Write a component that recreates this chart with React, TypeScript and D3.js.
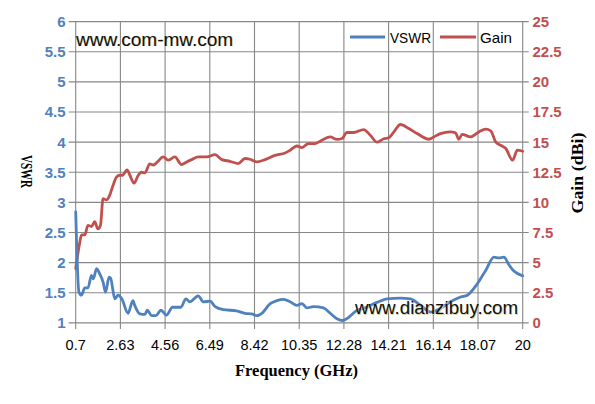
import React from 'react';
import * as d3 from 'd3';

const xTicks = [0.7, 2.63, 4.56, 6.49, 8.42, 10.35, 12.28, 14.21, 16.14, 18.07, 20];
const vswrTicks = [1, 1.5, 2, 2.5, 3, 3.5, 4, 4.5, 5, 5.5, 6];
const gainTicks = [0, 2.5, 5, 7.5, 10, 12.5, 15, 17.5, 20, 22.5, 25];

const vswrFreq = [0.70, 0.84, 0.95, 1.09, 1.23, 1.38, 1.46, 1.60, 1.74, 1.88, 1.99, 2.14, 2.21, 2.39, 2.53, 2.69, 2.96, 3.17, 3.25, 3.47, 3.69, 3.79, 3.98, 4.16, 4.38, 4.62, 4.88, 5.24, 5.46, 5.63, 5.99, 6.21, 6.50, 6.72, 7.07, 7.65, 8.01, 8.30, 8.52, 8.74, 9.10, 9.39, 9.67, 9.96, 10.25, 10.47, 10.68, 10.97, 11.40, 11.69, 11.98, 12.24, 12.48, 12.85, 13.13, 13.71, 14.14, 14.72, 15.15, 15.59, 16.02, 16.45, 16.88, 17.32, 17.61, 18.04, 18.40, 18.76, 18.97, 19.19, 19.41, 19.62, 20.00];
const vswrValues = [2.84, 1.51, 1.46, 1.58, 1.58, 1.79, 1.73, 1.90, 1.81, 1.68, 1.51, 1.76, 1.74, 1.40, 1.46, 1.40, 1.16, 1.37, 1.29, 1.15, 1.14, 1.21, 1.12, 1.12, 1.21, 1.13, 1.26, 1.26, 1.40, 1.35, 1.45, 1.35, 1.36, 1.27, 1.22, 1.20, 1.16, 1.15, 1.12, 1.16, 1.32, 1.37, 1.39, 1.35, 1.29, 1.32, 1.25, 1.27, 1.25, 1.16, 1.07, 1.04, 1.09, 1.21, 1.24, 1.34, 1.40, 1.41, 1.40, 1.29, 1.18, 1.24, 1.35, 1.43, 1.46, 1.65, 1.87, 2.09, 2.08, 2.09, 1.96, 1.86, 1.78];

const gainFreq = [0.70, 0.87, 0.95, 1.09, 1.23, 1.38, 1.52, 1.66, 1.77, 1.88, 2.03, 2.17, 2.31, 2.46, 2.60, 2.72, 2.92, 3.04, 3.22, 3.40, 3.54, 3.69, 3.90, 4.05, 4.22, 4.48, 4.69, 4.98, 5.27, 5.49, 5.71, 5.99, 6.36, 6.72, 7.01, 7.36, 7.72, 8.01, 8.23, 8.52, 8.88, 9.31, 9.74, 9.96, 10.25, 10.47, 10.75, 11.04, 11.33, 11.69, 11.98, 12.20, 12.41, 12.70, 13.13, 13.42, 13.71, 14.00, 14.21, 14.43, 14.72, 15.08, 15.44, 15.95, 16.16, 16.45, 16.88, 17.10, 17.24, 17.39, 17.75, 18.11, 18.40, 18.62, 18.84, 19.05, 19.27, 19.56, 19.77, 20.00];
const gainValues = [4.5, 6.6, 7.3, 7.3, 8.1, 8.0, 8.4, 7.8, 8.1, 10.3, 10.2, 10.6, 11.4, 12.1, 12.25, 12.25, 12.7, 12.25, 11.6, 12.25, 12.5, 12.45, 13.2, 13.1, 13.35, 13.77, 13.5, 13.77, 13.14, 13.36, 13.55, 13.77, 13.77, 13.97, 13.55, 13.41, 13.22, 13.64, 13.58, 13.36, 13.55, 13.9, 14.1, 14.33, 14.68, 14.55, 14.88, 14.88, 15.16, 15.43, 15.22, 15.3, 15.8, 15.8, 16.04, 15.57, 15.0, 15.28, 15.35, 15.83, 16.46, 16.13, 15.71, 15.24, 15.43, 15.71, 15.85, 15.77, 15.24, 15.65, 15.43, 15.85, 16.07, 15.93, 15.0, 14.74, 14.47, 13.5, 14.33, 14.24];

const BLUE = '#4F81BD';
const RED = '#C0504D';
const GRID = '#878787';
const SANS = '"Liberation Sans", Arial, sans-serif';
const SERIF = '"Liberation Serif", "DejaVu Serif", serif';

export default function App() {
  const W = 595, H = 404;
  const x = d3.scaleLinear().domain([0.7, 20]).range([75.7, 522.7]);
  const yL = d3.scaleLinear().domain([1, 6]).range([322.9, 21.6]);
  const yR = d3.scaleLinear().domain([0, 25]).range([322.9, 21.6]);

  const vLine = d3.line<number>()
    .x((_, i) => x(vswrFreq[i]))
    .y((d) => yL(d))
    .curve(d3.curveMonotoneX);
  const gLine = d3.line<number>()
    .x((_, i) => x(gainFreq[i]))
    .y((d) => yR(d))
    .curve(d3.curveMonotoneX);

  const x0 = x.range()[0], x1 = x.range()[1];
  const yTop = yL.range()[1], yBot = yL.range()[0];

  return (
    <svg width={W} height={H} style={{ position: 'absolute', left: 0, top: 0, background: '#fff' }}>
      <rect x={0} y={0} width={W} height={H} fill="#fff" />
      {vswrTicks.map((t) => (
        <g key={'h' + t}>
          <line x1={x0 - 7} x2={x1 + 6} y1={yL(t)} y2={yL(t)} stroke={GRID} strokeWidth={1.1} />
          <text x={65.5} y={yL(t) + 5.4} textAnchor="end" fontFamily={SANS} fontWeight="bold" fontSize={15} fill={BLUE}>{t}</text>
        </g>
      ))}
      {gainTicks.map((t) => (
        <text key={'r' + t} x={532.5} y={yR(t) + 5.4} textAnchor="start" fontFamily={SANS} fontWeight="bold" fontSize={15} fill={RED}>{t}</text>
      ))}
      {xTicks.map((t) => (
        <g key={'v' + t}>
          <line x1={x(t)} x2={x(t)} y1={yTop} y2={yBot + 6} stroke={GRID} strokeWidth={1.1} />
          <text x={x(t)} y={349.5} textAnchor="middle" fontFamily={SANS} fontSize={14.5} fill="#000">{t}</text>
        </g>
      ))}

      <text x={76} y={45.5} fontFamily={SANS} fontSize={17.5} fill="#d4d0a0" transform="translate(0.8,0.8)" textLength={157} lengthAdjust="spacingAndGlyphs">www.com-mw.com</text>
      <text x={76} y={45.5} fontFamily={SANS} fontSize={17.5} fill="#111" textLength={157} lengthAdjust="spacingAndGlyphs">www.com-mw.com</text>

      <path d={gLine(gainValues) || ''} fill="none" stroke={RED} strokeWidth={2.8} strokeLinejoin="round" strokeLinecap="round" />
      <path d={vLine(vswrValues) || ''} fill="none" stroke={BLUE} strokeWidth={2.8} strokeLinejoin="round" strokeLinecap="round" />

      <text x={355} y={314} fontFamily={SANS} fontSize={18} fill="#d4d0a0" transform="translate(0.8,0.8)" textLength={163} lengthAdjust="spacingAndGlyphs">www.dianzibuy.com</text>
      <text x={355} y={314} fontFamily={SANS} fontSize={18} fill="#111" textLength={163} lengthAdjust="spacingAndGlyphs">www.dianzibuy.com</text>

      <line x1={350} x2={385} y1={37} y2={37} stroke={BLUE} strokeWidth={2.8} />
      <text x={390} y={43} fontFamily={SANS} fontSize={15} fill="#000" textLength={41} lengthAdjust="spacingAndGlyphs">VSWR</text>
      <line x1={440} x2={476} y1={37} y2={37} stroke={RED} strokeWidth={2.8} />
      <text x={480} y={43} fontFamily={SANS} fontSize={15} fill="#000" textLength={32} lengthAdjust="spacingAndGlyphs">Gain</text>

      <text x={0} y={0} transform="translate(26.5,171.5) rotate(90)" textAnchor="middle" dominantBaseline="central" fontFamily={SERIF} fontWeight="bold" fontSize={16} fill="#000" textLength={33} lengthAdjust="spacingAndGlyphs">VSWR</text>
      <text x={0} y={0} transform="translate(577,173) rotate(-90)" textAnchor="middle" dominantBaseline="central" fontFamily={SERIF} fontWeight="bold" fontSize={16} fill="#000" textLength={81} lengthAdjust="spacingAndGlyphs">Gain (dBi)</text>
      <text x={296.5} y={376} textAnchor="middle" fontFamily={SERIF} fontWeight="bold" fontSize={16} fill="#000" textLength={123} lengthAdjust="spacingAndGlyphs">Frequency (GHz)</text>
    </svg>
  );
}
